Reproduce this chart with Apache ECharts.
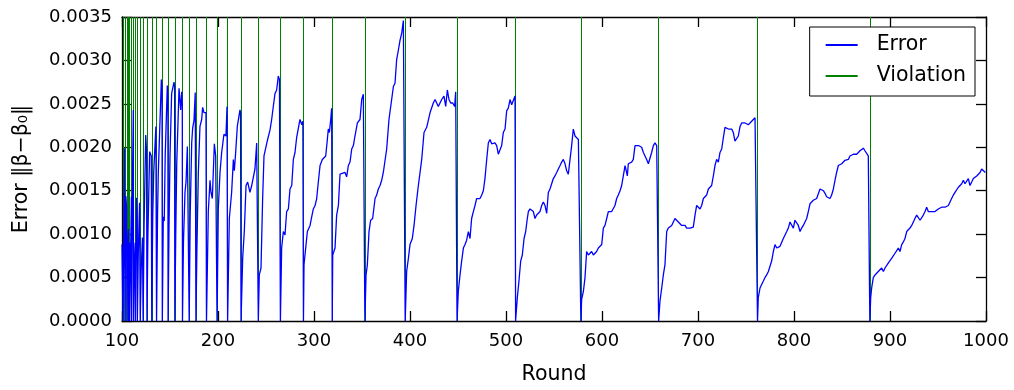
<!DOCTYPE html>
<html>
<head>
<meta charset="utf-8">
<script src="https://cdn.jsdelivr.net/npm/echarts@6/dist/echarts.min.js"></script>
<style>
  html, body { margin: 0; padding: 0; background: #fff; }
  #main { width: 1014px; height: 390px; }
</style>
</head>
<body>
<div id="main"></div>
<script>
// rounds where a violation happened (green vertical lines)
var violationRounds = [101, 103, 105, 107, 108, 110, 112, 114, 116, 119, 122, 126, 131, 136, 142,
  148, 155, 163, 170, 177, 188, 199, 210, 224, 242, 265, 289, 319, 353, 395, 449, 510, 578, 659, 762, 879];

// error curve
var errorRounds = [
  100, 100.8, 101, 102, 102.7, 103, 104, 104.8, 105, 106, 106.8, 107, 107.8, 108, 109, 109.8, 110, 111, 111.8, 112,
  113, 113.8, 114, 115, 115.8, 116, 117, 118.3, 119, 120, 121.3, 122, 123, 124.7, 125.6, 126, 127, 128.8, 130.5, 131,
  132, 133, 134, 135.3, 136, 137, 137.8, 138.5, 141, 141.7, 142,
  143, 144, 145, 147.2, 147.8, 148, 149, 150, 151.7, 152.8, 154.2, 154.8, 155,
  156, 157, 159.4, 161.1, 162.2, 162.8, 163, 164, 165.6, 166.7, 168.1, 169.5, 170,
  171, 172.6, 173.6, 175, 176.3, 177, 178, 179.5, 181.2, 183, 184, 185.4, 186.5, 187.5, 188,
  189.9, 191.7, 192.7, 194.1, 196.2, 197.6, 198.5, 199,
  200.3, 202.1, 203.8, 206.2, 208.3, 209.4, 210,
  211.8, 214.2, 216, 217, 218.4, 220.1, 222.9, 223.5, 224,
  225.7, 227.4, 229.2, 230.9, 233.3, 235.1, 236.8, 238.5, 240.3, 241.5, 242,
  243, 244.8, 246.5, 247.9, 249.6, 251.7, 254.2, 255.9, 257.6, 259.4, 261.1, 262.8, 264, 265,
  266.3, 268.1, 269.8, 271.5, 273.3, 275, 276.8, 278.5, 280.2, 281.9, 283.7, 285.4, 286.1, 287.3, 288.4, 289,
  289.6, 291.3, 293.1, 295.9, 297.6, 299.3, 301.1, 302.8, 304.5, 306.3, 308.7, 310.4, 312.2, 313.9, 314.9, 316, 317.4, 318.4, 319,
  319.5, 321.9, 323.6, 325.4, 327.1, 328.8, 332.3, 334, 335.8, 337.5, 339.3, 341, 342.7, 345.2, 347.9, 349.7, 351.4, 352.4, 353,
  354.2, 355.6, 357.3, 359, 361.1, 363.6, 365.3, 367, 368.8, 370.5, 372.2, 374, 375.7, 378.1, 380.9, 382.7, 384.4, 386.1, 387.9, 389.6, 391.3, 393.1, 394.1, 395,
  396.5, 398.3, 400, 402.4, 404.2, 406.3, 408.7, 412.2, 414.6, 417.4, 420.9, 424.3, 426.1, 427.8, 429.5, 431.3, 433, 435.4, 437.2, 438.9, 440.6, 442.4, 444.5, 446.5, 447.6, 448.3, 449,
  450.3, 452.1, 453.8, 455.6, 457.3, 459, 460.8, 462.5, 464.2, 466, 467.7, 469.4, 472.9, 474.7, 476.4, 478.1, 479.9, 481.6, 483.3, 485.1, 486.8, 488.5, 490.3, 492, 493.8, 495.5, 497.2, 499, 500.7, 502.4, 504.2, 505.9, 507.6, 509.4, 510,
  511.8, 513.5, 515.3, 517, 518.8, 520.5, 522.2, 523.3, 525, 526.7, 528.5, 530.2, 531.9, 533.7, 535.4, 537.2, 538.9, 540.6, 542.4, 544.1, 545.8, 547.6, 549.3, 551, 552.8, 554.5, 556.3, 558, 559.7, 561.5, 563.2, 564.9, 566.7, 568.4, 570.1, 571.9, 573.6, 575.4, 577.1, 578,
  578.8, 580.6, 582.3, 584, 585.8, 587.5, 589.2, 591, 592.7, 594.4, 596.2, 597.9, 599.7, 601.4, 603.1, 604.9, 606.6, 608.3, 610.1, 611.8, 613.5, 615.3, 617, 618.8, 620.5, 622.2, 624, 625.7, 626.4, 627.4, 629.2, 630.9, 632.6, 634.4, 636.1, 637.9, 639.6, 641.3, 643.1, 644.8, 646.5, 648.3, 650, 651.7, 653.5, 655.2, 657, 658.3, 659,
  660.4, 662.2, 663.9, 665.6, 667.4, 669.1, 670.8, 672.6, 674.3, 676, 677.8, 679.5, 681.3, 683, 684.7, 686.5, 688.2, 689.9, 691.7, 693.4, 695.1, 696.9, 698.6, 700.3, 702.1, 703.8, 705.6, 707.3, 709, 710.8, 712.5, 714.2, 716, 717.7, 719.4, 721.2, 722.9, 724.7, 726.4, 728.1, 729.9, 731.6, 733.3, 735.1, 736.8, 738.5, 740.3, 742, 743.8, 745.5, 747.2, 749, 750.7, 752.4, 754.2, 755.9, 757.6, 759.4, 760.4, 761.3, 762,
  762.8, 764.6, 766.3, 768.1, 769.8, 771.5, 773.3, 775, 776.7, 778.5, 780.2, 782, 783.7, 785.4, 787.2, 788.9, 790.6, 792.4, 794.1, 795.8, 797.6, 799.3, 801, 802.8, 804.5, 806.3, 808, 809.7, 811.5, 813.2, 814.9, 816.7, 818.4, 820.1, 821.9, 823.6, 825.3, 827.1, 828.8, 830.6, 832.3, 834, 835.8, 837.5, 839.2, 841, 842.7, 844.4, 846.2, 847.9, 849.7, 851.4, 853.1, 854.9, 856.6, 858.3, 860.1, 861.8, 863.5, 865.3, 867, 868.7, 870.5, 872.2, 873.9, 875.7, 877.4, 878.4, 879,
  879.9, 880.9, 882.6, 884.4, 886.1, 887.8, 889.6, 891.3, 893.1, 894.8, 896.5, 898.3, 900, 901.7, 903.5, 905.2, 906.9, 908.7, 910.4, 912.2, 913.9, 915.6, 917.4, 919.1, 920.8, 922.6, 924.3, 926, 927.8, 929.5, 931.3, 933, 934.7, 936.5, 938.2, 939.9, 941.7, 943.4, 945.1, 946.9, 948.6, 950.3, 952.1, 953.8, 955.6, 957.3, 959, 960.8, 962.5, 964.2, 966, 967.7, 969.4, 971.2, 972.9, 974.7, 976.4, 978.1, 979.9, 981.6, 983.3, 985.1, 986.8, 988.5, 990.3, 992, 993.8, 995.5, 997.2, 999.3, 1000
];
var errorValues = [
  0.00088, 0.00086, 0, 0.0012, 0.00199, 0, 0.00144, 0.0013, 0, 0.0009, 0.00106, 0, 0.0009, 0, 0.0008, 0.00143, 0, 0.0017, 0.00243, 0,
  0.0007, 0.0009, 0, 0.00142, 0.0012, 0, 0.0008, 0.00136, 0, 0.0006, 0.00096, 0, 0.0011, 0.00214, 0.00195, 0, 0.001, 0.00195, 0.0019, 0,
  0.0012, 0.0017, 0.00172, 0.00224, 0, 0.0012, 0.0017, 0.00168, 0.00278, 0.0027, 0,
  0.0012, 0.00115, 0.0019, 0.00271, 0.0026, 0, 0.0011, 0.0019, 0.00262, 0.0026, 0.00275, 0.0027, 0,
  0.001, 0.0018, 0.00268, 0.00243, 0.00264, 0.0025, 0, 0.0009, 0.00148, 0.0016, 0.00201, 0.00202, 0,
  0.0012, 0.00205, 0.00222, 0.00231, 0.00263, 0, 0.0008, 0.0017, 0.00224, 0.00232, 0.00246, 0.0024, 0.0024, 0.0024, 0,
  0.00126, 0.00162, 0.00148, 0.00141, 0.00204, 0.0019, 0.0019, 0,
  0.00129, 0.00171, 0.00194, 0.00215, 0.00213, 0.00247, 0,
  0.00118, 0.00148, 0.00186, 0.00173, 0.00194, 0.00224, 0.00243, 0.0024, 0,
  0.00072, 0.00103, 0.00156, 0.0016, 0.00148, 0.00156, 0.00158, 0.00175, 0.00205, 0.00207, 0,
  0.00053, 0.00061, 0.00141, 0.0019, 0.00192, 0.00209, 0.0022, 0.00232, 0.00247, 0.00262, 0.00266, 0.00282, 0.00278, 0,
  0.00084, 0.00103, 0.00099, 0.00126, 0.00129, 0.00152, 0.00156, 0.00186, 0.00194, 0.00211, 0.00213, 0.00232, 0.00234, 0.00226, 0.0023, 0,
  0.00065, 0.00065, 0.00103, 0.0011, 0.0012, 0.00129, 0.00133, 0.00141, 0.0016, 0.00179, 0.00186, 0.00185, 0.0019, 0.00209, 0.00221, 0.00217, 0.00232, 0.00245, 0,
  0.00076, 0.00084, 0.00122, 0.00133, 0.00169, 0.00171, 0.00171, 0.00166, 0.00179, 0.00183, 0.00198, 0.00202, 0.00213, 0.00228, 0.00232, 0.00255, 0.00261, 0.00259, 0,
  0.00053, 0.00065, 0.00103, 0.00116, 0.00118, 0.00141, 0.00145, 0.00152, 0.00156, 0.00162, 0.00171, 0.00173, 0.00198, 0.00232, 0.00255, 0.0027, 0.00274, 0.00301, 0.00312, 0.00323, 0.00331, 0.00346, 0.00344, 0,
  0.00057, 0.00072, 0.00088, 0.00095, 0.0011, 0.00133, 0.00156, 0.00186, 0.00217, 0.00223, 0.0024, 0.00251, 0.00255, 0.00255, 0.00247, 0.00245, 0.00255, 0.00259, 0.00247, 0.00266, 0.00255, 0.00251, 0.00251, 0.00247, 0.00264, 0.00262, 0,
  0.00034, 0.00053, 0.00069, 0.00084, 0.00088, 0.00093, 0.00103, 0.00095, 0.00118, 0.00126, 0.00133, 0.00141, 0.00141, 0.00145, 0.0015, 0.00164, 0.00186, 0.00205, 0.00209, 0.00204, 0.00202, 0.00205, 0.00202, 0.00192, 0.00192, 0.00202, 0.00217, 0.00221, 0.00242, 0.00245, 0.00255, 0.00249, 0.00247, 0.00259, 0,
  0.00027, 0.00046, 0.00069, 0.00076, 0.00095, 0.00103, 0.00118, 0.00126, 0.00129, 0.00131, 0.00126, 0.00118, 0.00122, 0.00122, 0.00126, 0.00133, 0.00137, 0.00133, 0.00124, 0.00148, 0.00152, 0.0015, 0.00164, 0.00167, 0.00171, 0.00175, 0.00179, 0.00183, 0.00186, 0.00181, 0.00173, 0.00169, 0.00186, 0.00202, 0.00221, 0.00213, 0.00211, 0.00209, 0.0021, 0,
  0.00025, 0.00034, 0.0005, 0.0008, 0.00076, 0.00074, 0.0008, 0.00076, 0.00078, 0.0008, 0.00084, 0.00086, 0.00088, 0.00107, 0.0011, 0.00118, 0.00126, 0.00124, 0.00126, 0.00124, 0.00133, 0.00141, 0.00145, 0.0015, 0.00156, 0.00167, 0.00179, 0.00179, 0.00167, 0.00181, 0.00181, 0.00183, 0.00186, 0.00202, 0.002, 0.00202, 0.00202, 0.002, 0.00194, 0.0019, 0.00186, 0.00181, 0.00181, 0.00194, 0.00202, 0.00205, 0.00202, 0.00204, 0,
  0.00023, 0.00038, 0.00053, 0.00065, 0.00103, 0.00107, 0.00107, 0.0011, 0.00114, 0.00118, 0.00118, 0.00114, 0.00112, 0.0011, 0.00108, 0.0011, 0.00107, 0.00105, 0.00107, 0.00108, 0.00108, 0.00122, 0.00133, 0.00131, 0.00129, 0.00133, 0.00141, 0.00139, 0.00145, 0.00152, 0.00154, 0.00156, 0.00167, 0.00179, 0.00186, 0.00183, 0.00194, 0.00198, 0.00211, 0.00223, 0.00223, 0.00221, 0.00223, 0.00221, 0.00217, 0.00207, 0.00205, 0.00213, 0.00224, 0.00228, 0.00226, 0.00228, 0.00228, 0.00226, 0.00228, 0.0023, 0.00232, 0.00234, 0.00234, 0.00234, 0,
  0.00027, 0.00038, 0.00042, 0.00046, 0.0005, 0.00053, 0.00057, 0.00055, 0.00069, 0.0008, 0.00088, 0.00084, 0.00086, 0.00086, 0.00088, 0.00095, 0.00097, 0.00103, 0.00107, 0.00114, 0.00116, 0.00107, 0.00116, 0.00118, 0.0011, 0.00103, 0.00107, 0.0011, 0.0011, 0.00118, 0.00126, 0.00135, 0.00137, 0.00139, 0.00141, 0.00141, 0.00139, 0.00152, 0.00152, 0.0015, 0.00147, 0.00143, 0.00141, 0.00141, 0.00145, 0.00152, 0.00162, 0.00171, 0.00179, 0.00181, 0.00181, 0.00183, 0.00185, 0.00186, 0.00186, 0.0019, 0.0019, 0.00192, 0.00192, 0.00192, 0.00194, 0.00196, 0.00198, 0.00199, 0.00196, 0.00194, 0.0019, 0.00188, 0,
  0.00027, 0.00038, 0.0005, 0.00053, 0.00055, 0.00057, 0.00059, 0.00061, 0.00057, 0.00061, 0.00063, 0.00067, 0.00069, 0.00072, 0.0007, 0.00078, 0.0008, 0.00084, 0.0008, 0.00088, 0.00091, 0.00095, 0.00103, 0.00105, 0.00107, 0.0011, 0.00112, 0.00118, 0.00122, 0.0012, 0.00116, 0.00118, 0.00122, 0.00126, 0.00131, 0.00126, 0.00124, 0.00126, 0.00124, 0.00126, 0.00127, 0.00129, 0.00131, 0.00131, 0.00131, 0.00131, 0.00133, 0.00133, 0.00137, 0.00141, 0.00145, 0.00148, 0.0015, 0.00154, 0.00152, 0.00158, 0.00162, 0.00158, 0.00156, 0.00164, 0.00156, 0.0016, 0.00164, 0.00166, 0.00167, 0.00169, 0.00171, 0.00175, 0.00173, 0.00171, 0.00171
];

var chart = echarts.init(document.getElementById('main'));
var font = 'DejaVu Sans';
var black = '#000';

function frameAxis(pos, showLabel) {
  return {
    position: pos,
    axisLine: { show: true, onZero: false, lineStyle: { color: black, width: 1.3 } },
    axisTick: { show: true, inside: true, length: 10, lineStyle: { color: black, width: 1.3 } },
    splitLine: { show: false },
    axisLabel: { show: showLabel, color: black, fontSize: 18, fontFamily: font }
  };
}

var xBottom = frameAxis('bottom', true);
xBottom.type = 'value';
xBottom.min = 100; xBottom.max = 1000; xBottom.interval = 100;
xBottom.axisLabel.margin = 11;
xBottom.axisLabel.formatter = function (v) { return String(v); };
xBottom.name = 'Round';
xBottom.nameLocation = 'middle';
xBottom.nameGap = 43;
xBottom.nameTextStyle = { fontSize: 20.5, fontFamily: font, color: black };

var xTop = frameAxis('top', false);
xTop.type = 'value';
xTop.min = 100; xTop.max = 1000; xTop.interval = 100;

var yLeft = frameAxis('left', true);
yLeft.type = 'value';
yLeft.min = 0; yLeft.max = 0.0035; yLeft.interval = 0.0005;
yLeft.axisLabel.margin = 10;
yLeft.axisLabel.formatter = function (v) { return v.toFixed(4); };
yLeft.name = 'Error ‖β−β₀‖';
yLeft.nameLocation = 'middle';
yLeft.nameGap = 90;
yLeft.nameTextStyle = { fontSize: 20.5, fontFamily: font, color: black };

var yRight = frameAxis('right', false);
yRight.type = 'value';
yRight.min = 0; yRight.max = 0.0035; yRight.interval = 0.0005;

var option = {
  animation: false,
  backgroundColor: '#fff',
  grid: { left: 122, right: 28, top: 17, bottom: 67, containLabel: false },
  xAxis: [xBottom, xTop],
  yAxis: [yLeft, yRight],
  legend: {
    orient: 'vertical',
    right: 39,
    top: 27,
    z: 20,
    padding: [7, 9, 9, 16],
    itemWidth: 32,
    itemHeight: 2,
    itemGap: 9,
    icon: 'rect',
    selectedMode: false,
    backgroundColor: '#fff',
    borderColor: black,
    borderWidth: 1,
    borderRadius: 0,
    textStyle: { fontSize: 20.5, fontFamily: font, color: black, padding: [0, 0, 0, 14], lineHeight: 22 },
    data: ['Error', 'Violation']
  },
  series: [
    {
      name: 'Violation',
      type: 'line',
      data: [],
      z: 1,
      itemStyle: { color: '#008000' },
      lineStyle: { color: '#008000', width: 1 },
      markLine: {
        z: 1,
        silent: true,
        animation: false,
        symbol: ['none', 'none'],
        label: { show: false },
        emphasis: { disabled: true },
        lineStyle: { color: '#008000', width: 1, type: 'solid' },
        data: violationRounds.map(function (v) { return { xAxis: v }; })
      }
    },
    {
      name: 'Error',
      type: 'line',
      z: 10,
      showSymbol: false,
      symbol: 'none',
      itemStyle: { color: '#0000ff' },
      lineStyle: { color: '#0000ff', width: 1.3 },
      data: errorRounds.map(function (r, i) { return [r, errorValues[i]]; })
    }
  ]
};
chart.setOption(option);
</script>
</body>
</html>
